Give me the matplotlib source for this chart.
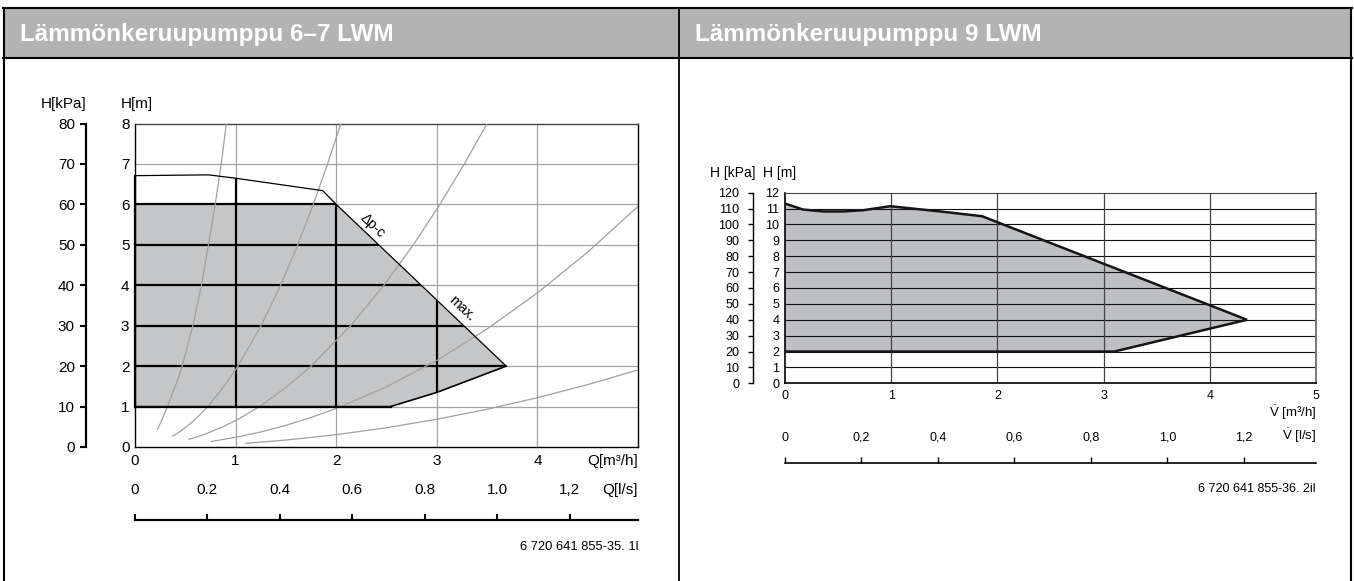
import matplotlib
matplotlib.use("Agg")
import matplotlib.pyplot as plt
import matplotlib.transforms as mtrans
from matplotlib.patches import Polygon, Rectangle
from matplotlib.lines import Line2D

plt.rcParams['font.family'] = ['Liberation Sans', 'DejaVu Sans']
plt.rcParams['mathtext.fontset'] = 'custom'
plt.rcParams['mathtext.rm'] = 'Liberation Sans'
plt.rcParams['mathtext.it'] = 'Liberation Sans:italic'

# ---------------- data ----------------
TITLE_LEFT = "Lämmönkeruupumppu 6–7 LWM"
TITLE_RIGHT = "Lämmönkeruupumppu 9 LWM"

# left chart (6-7 LWM)
L_Q_TICKS = [0, 1, 2, 3, 4]
L_H_TICKS = [0, 1, 2, 3, 4, 5, 6, 7, 8]
L_KPA_TICKS = [0, 10, 20, 30, 40, 50, 60, 70, 80]
L_LS_TICKS = [0, 0.2, 0.4, 0.6, 0.8, 1.0, 1.2]
L_LS_LABELS = ["0", "0.2", "0.4", "0.6", "0.8", "1.0", "1,2"]
# outer pump envelope (max curve + lower limit)
L_ENV_Q = [0, 0.73, 0.99, 1.865, 2.0, 3.69, 3.0, 2.54, 0]
L_ENV_H = [6.71, 6.73, 6.65, 6.34, 6.0, 2.0, 1.35, 1.0, 1.0]
# shaded Δp-c working area
L_DPC_Q = [0, 2.0, 3.69, 3.0, 2.54, 0]
L_DPC_H = [6.0, 6.0, 2.0, 1.35, 1.0, 1.0]
# system curves (grey)
L_SYS_A_Q = [0.224, 0.27, 0.322, 0.40, 0.47, 0.575, 0.66, 0.73, 0.797, 0.857, 0.908]
L_SYS_A_H = [0.44, 0.68, 1, 1.5, 2, 3, 4, 5, 6, 7, 8]
L_SYS_B_Q = [0.376, 0.458, 0.56, 0.647, 0.724, 0.886, 1.023, 1.253, 1.447, 1.618, 1.772, 1.914, 2.047]
L_SYS_B_H = [0.27, 0.4, 0.6, 0.8, 1, 1.5, 2, 3, 4, 5, 6, 7, 8]
L_SYS_C_Q = [0.539, 0.678, 0.875, 1.035, 1.237, 1.516, 1.75, 2.143, 2.475, 2.767, 3.031, 3.274, 3.5]
L_SYS_C_H = [0.19, 0.3, 0.5, 0.7, 1, 1.5, 2, 3, 4, 5, 6, 7, 8]
L_SYS_D_Q = [0.76, 1.0, 1.25, 1.5, 1.75, 2.0, 2.5, 3.0, 3.5, 4.0, 4.5, 5.0]
L_SYS_D_H = [0.137, 0.238, 0.372, 0.536, 0.73, 0.952, 1.49, 2.14, 2.92, 3.81, 4.82, 5.95]
L_SYS_E_Q = [1.1, 1.5, 2.0, 2.5, 3.0, 3.5, 4.0, 4.5, 5.0]
L_SYS_E_H = [0.092, 0.171, 0.305, 0.476, 0.686, 0.933, 1.219, 1.543, 1.905]
L_LABEL_DPC = (2.36, 5.47)
L_LABEL_MAX = (3.25, 3.43)

# right chart (9 LWM)
R_Q_TICKS = [0, 1, 2, 3, 4, 5]
R_H_TICKS = list(range(0, 13))
R_KPA_TICKS = list(range(0, 121, 10))
R_LS_TICKS = [0, 0.2, 0.4, 0.6, 0.8, 1.0, 1.2]
R_LS_LABELS = ["0", "0,2", "0,4", "0,6", "0,8", "1,0", "1,2"]
R_ENV_Q = [0, 0.17, 0.36, 0.55, 0.74, 0.87, 0.99, 1.46, 1.855, 4.35, 3.1, 0]
R_ENV_H = [11.32, 10.94, 10.82, 10.82, 10.9, 11.03, 11.15, 10.82, 10.52, 4.0, 2.0, 2.0]

M3H_PER_LS = 3.6
VDOT = r"$\dot{\mathrm{V}}$"

# ---------------- figure ----------------
W, H = 1354, 581
fig = plt.figure(figsize=(W / 100, H / 100), dpi=100)


def fx(x):
    return x / W


def fy(y):
    return 1 - y / H


def add_ax(x0, y0, x1, y1):
    return fig.add_axes([fx(x0), fy(y1), (x1 - x0) / W, (y1 - y0) / H])


def fline(xs, ys, **kw):
    fig.add_artist(Line2D([fx(v) for v in xs], [fy(v) for v in ys],
                          transform=fig.transFigure, **kw))


# frame + header
fig.add_artist(Rectangle((fx(4), fy(58)), (1351 - 4) / W, (58 - 8) / H,
                         transform=fig.transFigure, facecolor='#b3b3b3',
                         edgecolor='none'))
fline([3, 1352], [8, 8], color='k', lw=1.5)
fline([3, 1352], [58, 58], color='k', lw=1.5)
fline([4, 4], [8, 581], color='k', lw=1.5)
fline([679, 679], [8, 581], color='k', lw=1.3)
fline([1351, 1351], [8, 581], color='k', lw=1.5)
fig.text(fx(20), fy(34), TITLE_LEFT, color='white', weight='bold',
         size=17.5, va='center', ha='left')
fig.text(fx(695), fy(34), TITLE_RIGHT, color='white', weight='bold',
         size=17.5, va='center', ha='left')

# ---------------- left chart ----------------
FS_L = 11
ax1 = add_ax(135, 123.5, 638, 447)
ax1.set_xlim(0, 5)
ax1.set_ylim(0, 8)
for s in ['left', 'bottom', 'right']:
    ax1.spines[s].set_color('k')
    ax1.spines[s].set_linewidth(1.0)
ax1.spines['top'].set_color('#444444')
ax1.spines['top'].set_linewidth(1.0)
ax1.set_xticks(L_Q_TICKS)
ax1.set_xticklabels([str(v) for v in L_Q_TICKS])
ax1.set_yticks(L_H_TICKS)
ax1.set_yticklabels([str(v) for v in L_H_TICKS])
ax1.tick_params(axis='x', length=0, pad=5, labelsize=FS_L)
ax1.tick_params(axis='y', length=0, pad=4, labelsize=FS_L)

env = Polygon(list(zip(L_ENV_Q, L_ENV_H)), closed=True, transform=ax1.transData,
              facecolor='none', edgecolor='none')
ax1.add_patch(env)
ax1.add_patch(Polygon(list(zip(L_DPC_Q, L_DPC_H)), closed=True,
                      facecolor='#c5c6c8', edgecolor='none', zorder=2))
grey = '#a3a3a3'
for q in L_Q_TICKS[1:]:
    ax1.axvline(q, color=grey, lw=0.9, zorder=1)
    ln = ax1.axvline(q, color='k', lw=1.6, zorder=3)
    ln.set_clip_path(env)
for h in L_H_TICKS[1:-1]:
    ax1.axhline(h, color=grey, lw=0.9, zorder=1)
    ln = ax1.axhline(h, color='k', lw=1.6, zorder=3)
    ln.set_clip_path(env)

for qs, hs in [(L_SYS_A_Q, L_SYS_A_H), (L_SYS_B_Q, L_SYS_B_H),
               (L_SYS_C_Q, L_SYS_C_H), (L_SYS_D_Q, L_SYS_D_H),
               (L_SYS_E_Q, L_SYS_E_H)]:
    ax1.plot(qs, hs, color='#a0a0a0', lw=0.9, zorder=4,
             solid_joinstyle='round')

# envelope outline
ax1.plot(L_ENV_Q[:6], L_ENV_H[:6], color='k', lw=0.9, zorder=5,
         solid_joinstyle='round')
ax1.plot(L_ENV_Q[5:8], L_ENV_H[5:8], color='k', lw=1.2, zorder=5)
ax1.plot(L_ENV_Q[7:9], L_ENV_H[7:9], color='k', lw=1.6, zorder=5)
ax1.plot([L_ENV_Q[8], L_ENV_Q[0]], [L_ENV_H[8], L_ENV_H[0]], color='k',
         lw=1.6, zorder=5, clip_on=False)

ax1.text(*L_LABEL_DPC, "Δp-c", rotation=-43.5, rotation_mode='anchor',
         ha='center', va='center', size=10, zorder=6)
ax1.text(*L_LABEL_MAX, "max.", rotation=-43.5, rotation_mode='anchor',
         ha='center', va='center', size=10, zorder=6)

bt1 = mtrans.blended_transform_factory(ax1.transAxes, fig.transFigure)
ax1.text(1.0, fy(461), "Q[m³/h]", transform=bt1, ha='right', va='center',
         size=FS_L)

fig.text(fx(87), fy(104), "H[kPa]", ha='right', va='center', size=FS_L)
fig.text(fx(121), fy(104), "H[m]", ha='left', va='center', size=FS_L)

axk1 = add_ax(86, 123.5, 87, 447)
axk1.set_ylim(0, 80)
axk1.patch.set_visible(False)
for s in ['top', 'right', 'bottom']:
    axk1.spines[s].set_visible(False)
axk1.spines['left'].set_linewidth(1.6)
axk1.set_xticks([])
axk1.set_yticks(L_KPA_TICKS)
axk1.set_yticklabels([str(v) for v in L_KPA_TICKS])
axk1.tick_params(axis='y', direction='out', length=4, width=1.5, pad=4,
                 labelsize=FS_L)

axl1 = add_ax(135, 519, 638, 520)
axl1.set_xlim(0, 5)
axl1.set_ylim(0, 1)
axl1.patch.set_visible(False)
for s in ['top', 'right', 'left']:
    axl1.spines[s].set_visible(False)
axl1.spines['bottom'].set_linewidth(1.6)
axl1.set_yticks([])
axl1.set_xticks([v * M3H_PER_LS for v in L_LS_TICKS])
axl1.tick_params(axis='x', direction='in', length=4.5, width=1.5,
                 labelbottom=False)
btl1 = mtrans.blended_transform_factory(axl1.transData, fig.transFigure)
for v, lab in zip(L_LS_TICKS, L_LS_LABELS):
    axl1.text(v * M3H_PER_LS, fy(490), lab, transform=btl1, ha='center',
              va='center', size=FS_L)
axl1.text(5, fy(490), "Q[l/s]", transform=btl1, ha='right', va='center',
          size=FS_L)
fig.text(fx(638), fy(547), "6 720 641 855-35. 1l", ha='right', va='center',
         size=9.3)

# ---------------- right chart ----------------
FS_R = 9
ax2 = add_ax(785, 192.7, 1316, 383.3)
ax2.set_xlim(0, 5)
ax2.set_ylim(0, 12)
ax2.spines['left'].set_linewidth(1.2)
ax2.spines['bottom'].set_linewidth(1.2)
ax2.spines['top'].set_color('#444444')
ax2.spines['right'].set_color('#777777')
ax2.spines['right'].set_linewidth(1.4)
ax2.set_xticks(R_Q_TICKS)
ax2.set_xticklabels([str(v) for v in R_Q_TICKS])
ax2.set_yticks(R_H_TICKS)
ax2.set_yticklabels([str(v) for v in R_H_TICKS])
ax2.tick_params(axis='x', length=0, pad=5, labelsize=FS_R)
ax2.tick_params(axis='y', length=0, pad=4, labelsize=FS_R)

ax2.add_patch(Polygon(list(zip(R_ENV_Q, R_ENV_H)), closed=True,
                      facecolor='#bebfc2', edgecolor='none', zorder=1))
for h in R_H_TICKS[1:-1]:
    ax2.axhline(h, color='#111111', lw=0.8, zorder=2)
for q in R_Q_TICKS[1:-1]:
    ax2.axvline(q, color='#444444', lw=0.9, zorder=2)
ax2.plot(R_ENV_Q, R_ENV_H, color='#151515', lw=1.8, zorder=3,
         solid_joinstyle='miter')

bt2 = mtrans.blended_transform_factory(ax2.transAxes, fig.transFigure)
ax2.text(1.0, fy(413), VDOT + " [m³/h]", transform=bt2, ha='right',
         va='center', size=FS_R + 0.5)
fig.text(fx(756), fy(173), "H [kPa]", ha='right', va='center', size=10)
fig.text(fx(763), fy(173), "H [m]", ha='left', va='center', size=10)

axk2 = add_ax(752.5, 192.7, 753.5, 383.3)
axk2.set_ylim(0, 120)
axk2.patch.set_visible(False)
for s in ['top', 'right', 'bottom']:
    axk2.spines[s].set_visible(False)
axk2.spines['left'].set_linewidth(1.0)
axk2.set_xticks([])
axk2.set_yticks(R_KPA_TICKS)
axk2.set_yticklabels([str(v) for v in R_KPA_TICKS])
axk2.tick_params(axis='y', direction='out', length=3.5, width=1.0, pad=6,
                 labelsize=FS_R)

axl2 = add_ax(785, 462, 1316, 463)
axl2.set_xlim(0, 5)
axl2.set_ylim(0, 1)
axl2.patch.set_visible(False)
for s in ['top', 'right', 'left']:
    axl2.spines[s].set_visible(False)
axl2.spines['bottom'].set_linewidth(1.2)
axl2.set_yticks([])
axl2.set_xticks([v * M3H_PER_LS for v in R_LS_TICKS])
axl2.tick_params(axis='x', direction='in', length=4.5, width=1.0,
                 labelbottom=False)
btl2 = mtrans.blended_transform_factory(axl2.transData, fig.transFigure)
for v, lab in zip(R_LS_TICKS, R_LS_LABELS):
    axl2.text(v * M3H_PER_LS, fy(438), lab, transform=btl2, ha='center',
              va='center', size=FS_R)
axl2.text(5, fy(436), VDOT + " [l/s]", transform=btl2, ha='right',
          va='center', size=FS_R + 0.5)
fig.text(fx(1316), fy(489), "6 720 641 855-36. 2il", ha='right',
         va='center', size=9)

fig.savefig("out.png", dpi=100)
